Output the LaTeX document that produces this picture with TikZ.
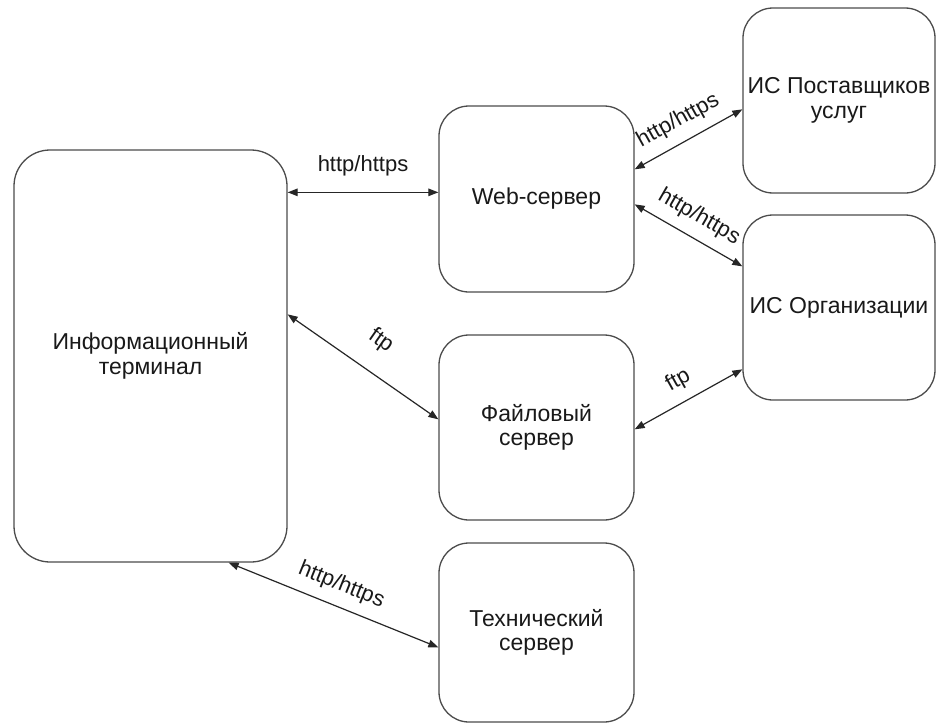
\documentclass[tikz,border=0pt]{standalone}
\usepackage{fontspec}
\setmainfont{Liberation Sans}
\usetikzlibrary{arrows.meta,calc}
\begin{document}
\begin{tikzpicture}[x=1pt,y=-1pt,
  box/.style={draw=black!70, line width=1.3pt, rounded corners=30pt,
    fill=white, align=center, inner sep=0pt,
    font=\fontsize{23}{24.5}\selectfont, text=black!90},
  link/.style={draw=black!85, line width=1.2pt,
    {Triangle[length=10pt,width=7.5pt]}-{Triangle[length=10pt,width=7.5pt]}},
  lbl/.style={font=\fontsize{22}{24}\selectfont, text=black!90, sloped, above=7pt}]
\useasboundingbox (0,0) rectangle (937,725);
\fill[white] (0,0) rectangle (937,725);

% blocks
\node[box, rounded corners=36pt, minimum width=273pt, minimum height=412pt]
  (term) at (150.5,356) {Информационный\\терминал};
\node[box, minimum width=195pt, minimum height=186pt]
  (web) at (536.5,199) {Web-сервер};
\node[box, minimum width=192pt, minimum height=185pt]
  (prov) at (839,100.5) {ИС Поставщиков\\услуг};
\node[box, minimum width=192pt, minimum height=185pt]
  (org) at (839,307.5) {ИС Организации};
\node[box, minimum width=195pt, minimum height=185pt]
  (file) at (536.5,427.5) {Файловый\\сервер};
\node[box, minimum width=195pt, minimum height=179pt]
  (tech) at (536.5,632.5) {Технический\\сервер};

% connections
\draw[link] ([yshift=-43pt]term.north east) -- node[lbl, above=5pt]{http/https} ([yshift=-87pt]web.north west);
\draw[link] ([yshift=-64pt]web.north east) -- node[lbl]{http/https} ([yshift=-102pt]prov.north west);
\draw[link] ([yshift=-99pt]web.north east) -- node[lbl]{http/https} ([yshift=-52pt]org.north west);
\draw[link] ([yshift=-165pt]term.north east) -- node[lbl, above=10pt]{ftp} ([yshift=-85pt]file.north west);
\draw[link] ([yshift=-95pt]file.north east) -- node[lbl]{ftp} ([yshift=-155pt]org.north west);
\draw[link] ([xshift=-59pt]term.south east) -- node[lbl]{http/https} ([yshift=-105pt]tech.north west);
\end{tikzpicture}
\end{document}
